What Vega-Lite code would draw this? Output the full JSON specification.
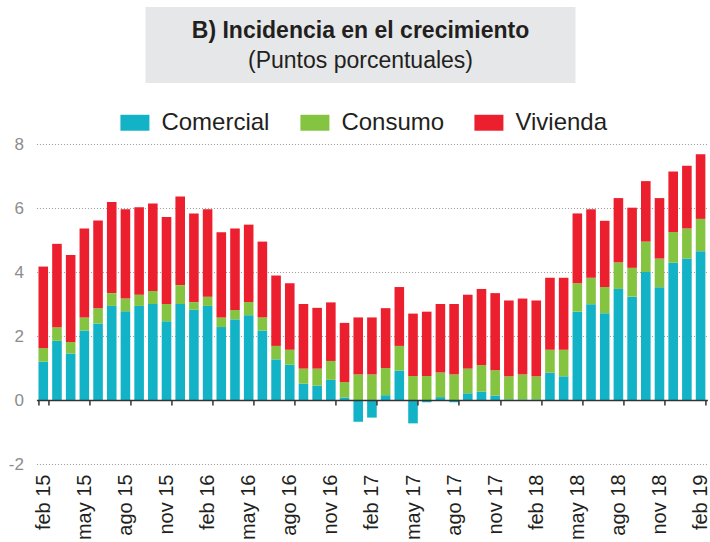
{
  "$schema": "https://vega.github.io/schema/vega-lite/v6.json",
  "background": "white",
  "padding": {"left": 8, "top": 7, "right": 0, "bottom": 0},
  "spacing": 25,
  "center": true,
  "config": {"font": "Liberation Sans", "view": {"stroke": null}},
  "resolve": {"scale": {"color": "independent"}, "legend": {"color": "independent"}},
  "vconcat": [
    {
      "spacing": 21,
      "hconcat": [
        {
          "width": 430,
          "height": 76,
          "view": {"fill": "#E6E7E8", "stroke": null},
          "data": {"values": [{"a": "B) Incidencia en el crecimiento", "b": "(Puntos porcentuales)"}]},
          "layer": [
            {
              "mark": {"type": "text", "fontWeight": "bold", "fontSize": 23, "baseline": "alphabetic", "align": "center", "dy": -7, "color": "#231F20", "font": "Liberation Sans"},
              "encoding": {"text": {"field": "a", "type": "nominal"}}
            },
            {
              "mark": {"type": "text", "fontSize": 23, "baseline": "alphabetic", "align": "center", "dy": 23, "color": "#231F20", "font": "Liberation Sans"},
              "encoding": {"text": {"field": "b", "type": "nominal"}}
            }
          ]
        },
        {
          "width": 5,
          "height": 76,
          "view": {"fill": "#ffffff", "stroke": null},
          "data": {"values": []},
          "mark": "point"
        }
      ]
    },
    {
      "width": 671,
      "height": 320,
      "view": {"stroke": null},
      "data": {
        "values": [
          {"mes": "feb 15", "Comercial": 1.20, "Consumo": 0.42, "Vivienda": 2.55},
          {"mes": "mar 15", "Comercial": 1.85, "Consumo": 0.42, "Vivienda": 2.61},
          {"mes": "abr 15", "Comercial": 1.45, "Consumo": 0.36, "Vivienda": 2.72},
          {"mes": "may 15", "Comercial": 2.17, "Consumo": 0.41, "Vivienda": 2.78},
          {"mes": "jun 15", "Comercial": 2.39, "Consumo": 0.48, "Vivienda": 2.74},
          {"mes": "jul 15", "Comercial": 2.94, "Consumo": 0.40, "Vivienda": 2.85},
          {"mes": "ago 15", "Comercial": 2.77, "Consumo": 0.40, "Vivienda": 2.79},
          {"mes": "sep 15", "Comercial": 2.94, "Consumo": 0.35, "Vivienda": 2.73},
          {"mes": "oct 15", "Comercial": 3.00, "Consumo": 0.41, "Vivienda": 2.73},
          {"mes": "nov 15", "Comercial": 2.46, "Consumo": 0.54, "Vivienda": 2.72},
          {"mes": "dic 15", "Comercial": 3.00, "Consumo": 0.59, "Vivienda": 2.77},
          {"mes": "ene 16", "Comercial": 2.82, "Consumo": 0.24, "Vivienda": 2.77},
          {"mes": "feb 16", "Comercial": 2.94, "Consumo": 0.29, "Vivienda": 2.73},
          {"mes": "mar 16", "Comercial": 2.28, "Consumo": 0.30, "Vivienda": 2.66},
          {"mes": "abr 16", "Comercial": 2.52, "Consumo": 0.29, "Vivienda": 2.55},
          {"mes": "may 16", "Comercial": 2.65, "Consumo": 0.41, "Vivienda": 2.42},
          {"mes": "jun 16", "Comercial": 2.17, "Consumo": 0.41, "Vivienda": 2.37},
          {"mes": "jul 16", "Comercial": 1.27, "Consumo": 0.42, "Vivienda": 2.20},
          {"mes": "ago 16", "Comercial": 1.10, "Consumo": 0.47, "Vivienda": 2.08},
          {"mes": "sep 16", "Comercial": 0.51, "Consumo": 0.47, "Vivienda": 2.02},
          {"mes": "oct 16", "Comercial": 0.45, "Consumo": 0.53, "Vivienda": 1.90},
          {"mes": "nov 16", "Comercial": 0.63, "Consumo": 0.59, "Vivienda": 1.83},
          {"mes": "dic 16", "Comercial": 0.08, "Consumo": 0.48, "Vivienda": 1.85},
          {"mes": "ene 17", "Comercial": -0.68, "Consumo": 0.80, "Vivienda": 1.78},
          {"mes": "feb 17", "Comercial": -0.55, "Consumo": 0.80, "Vivienda": 1.78},
          {"mes": "mar 17", "Comercial": 0.15, "Consumo": 0.85, "Vivienda": 1.87},
          {"mes": "abr 17", "Comercial": 0.92, "Consumo": 0.77, "Vivienda": 1.84},
          {"mes": "may 17", "Comercial": -0.73, "Consumo": 0.75, "Vivienda": 1.95},
          {"mes": "jun 17", "Comercial": -0.07, "Consumo": 0.75, "Vivienda": 2.01},
          {"mes": "jul 17", "Comercial": 0.09, "Consumo": 0.77, "Vivienda": 2.14},
          {"mes": "ago 17", "Comercial": -0.07, "Consumo": 0.80, "Vivienda": 2.20},
          {"mes": "sep 17", "Comercial": 0.21, "Consumo": 0.77, "Vivienda": 2.31},
          {"mes": "oct 17", "Comercial": 0.26, "Consumo": 0.83, "Vivienda": 2.38},
          {"mes": "nov 17", "Comercial": 0.14, "Consumo": 0.79, "Vivienda": 2.41},
          {"mes": "dic 17", "Comercial": 0.02, "Consumo": 0.72, "Vivienda": 2.37},
          {"mes": "ene 18", "Comercial": 0.02, "Consumo": 0.78, "Vivienda": 2.37},
          {"mes": "feb 18", "Comercial": 0.02, "Consumo": 0.72, "Vivienda": 2.37},
          {"mes": "mar 18", "Comercial": 0.85, "Consumo": 0.72, "Vivienda": 2.25},
          {"mes": "abr 18", "Comercial": 0.74, "Consumo": 0.83, "Vivienda": 2.25},
          {"mes": "may 18", "Comercial": 2.76, "Consumo": 0.89, "Vivienda": 2.18},
          {"mes": "jun 18", "Comercial": 2.99, "Consumo": 0.83, "Vivienda": 2.14},
          {"mes": "jul 18", "Comercial": 2.71, "Consumo": 0.82, "Vivienda": 2.07},
          {"mes": "ago 18", "Comercial": 3.47, "Consumo": 0.83, "Vivienda": 2.01},
          {"mes": "sep 18", "Comercial": 3.23, "Consumo": 0.90, "Vivienda": 1.88},
          {"mes": "oct 18", "Comercial": 4.00, "Consumo": 0.95, "Vivienda": 1.89},
          {"mes": "nov 18", "Comercial": 3.52, "Consumo": 0.90, "Vivienda": 1.89},
          {"mes": "dic 18", "Comercial": 4.29, "Consumo": 0.96, "Vivienda": 1.89},
          {"mes": "ene 19", "Comercial": 4.42, "Consumo": 0.94, "Vivienda": 1.96},
          {"mes": "feb 19", "Comercial": 4.65, "Consumo": 1.01, "Vivienda": 2.02}
        ]
      },
      "transform": [{"fold": ["Comercial", "Consumo", "Vivienda"], "as": ["serie", "valor"]}],
      "mark": {"type": "bar"},
      "encoding": {
        "x": {
          "field": "mes",
          "type": "nominal",
          "sort": null,
          "scale": {"paddingInner": 0.3, "paddingOuter": 0.15},
          "axis": {
            "title": null,
            "values": ["feb 15", "may 15", "ago 15", "nov 15", "feb 16", "may 16", "ago 16", "nov 16", "feb 17", "may 17", "ago 17", "nov 17", "feb 18", "may 18", "ago 18", "nov 18", "feb 19"],
            "labelAngle": -90,
            "labelFontSize": 20,
            "labelColor": "#231F20",
            "labelFont": "Liberation Sans",
            "offset": -64,
            "labelPadding": 69,
            "tickBand": "extent",
            "tickSize": 5,
            "tickColor": "#333333",
            "tickWidth": 1.5,
            "domainColor": "#333333",
            "domainWidth": 1.5,
            "grid": false,
            "zindex": 1
          }
        },
        "y": {
          "field": "valor",
          "type": "quantitative",
          "stack": "zero",
          "scale": {"domain": [-2, 8], "nice": false},
          "axis": {
            "title": null,
            "values": [-2, 0, 2, 4, 6, 8],
            "labelExpr": "'' + datum.value",
            "domain": false,
            "ticks": false,
            "labelPadding": 13,
            "labelFontSize": 17,
            "labelColor": "#8C8C8C",
            "gridDash": [1, 2],
            "gridColor": "#999999",
            "gridWidth": 1.2
          }
        },
        "color": {
          "field": "serie",
          "type": "nominal",
          "scale": {"domain": ["Comercial", "Consumo", "Vivienda"], "range": ["#12B2C7", "#84C441", "#EC1F2E"]},
          "legend": {
            "title": null,
            "orient": "none",
            "direction": "horizontal",
            "legendX": 84,
            "legendY": -36,
            "symbolType": "M-1,-0.55H1V0.55H-1Z",
            "symbolSize": 841,
            "symbolStrokeWidth": 0,
            "symbolOpacity": 1,
            "labelFontSize": 24,
            "labelColor": "#231F20",
            "labelOffset": 12,
            "columnPadding": 30,
            "padding": 0
          }
        },
        "order": {"field": "serie", "sort": "ascending"}
      }
    }
  ]
}
